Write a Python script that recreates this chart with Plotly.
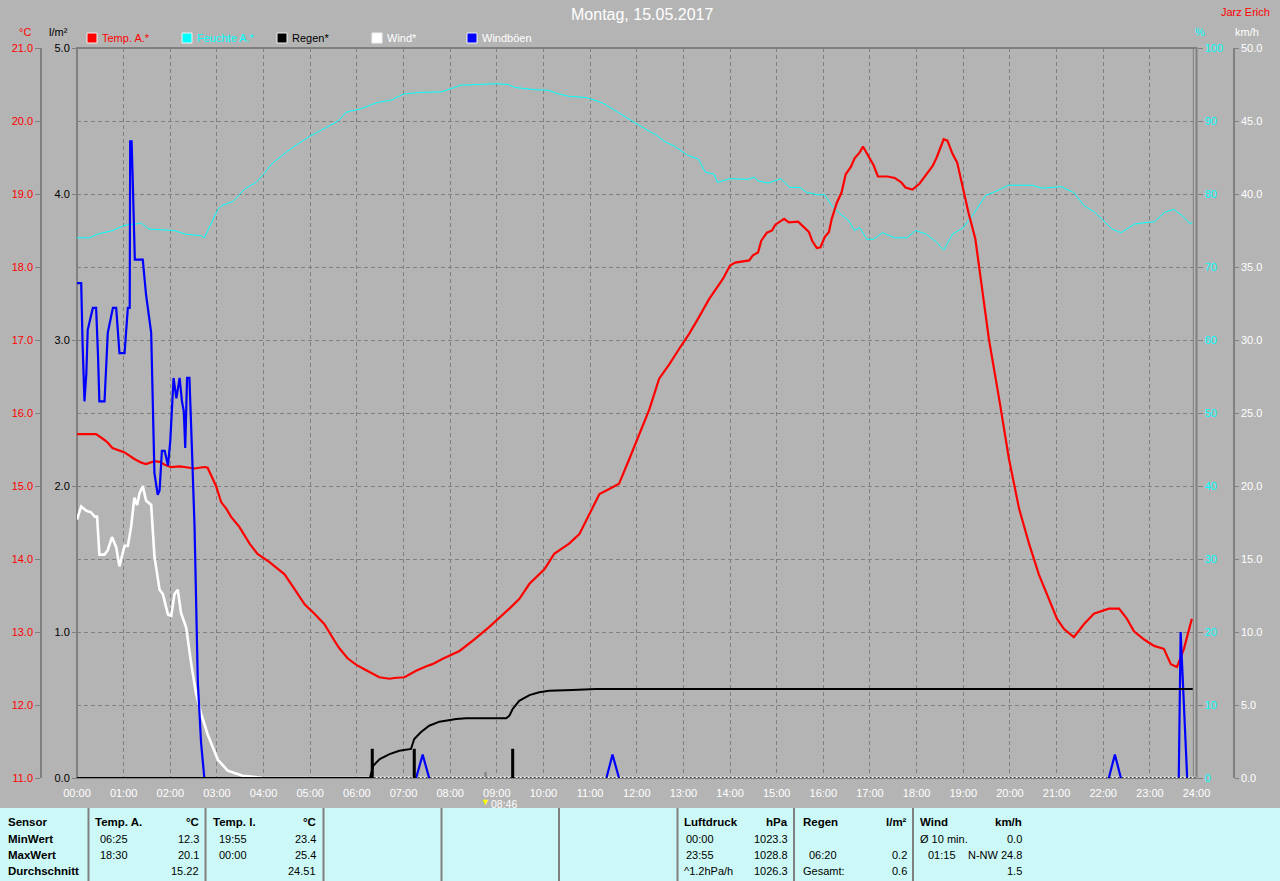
import plotly.graph_objects as go

# ---------------- data (time in decimal hours) ----------------
hour_labels = [f"{h:02d}:00" for h in range(25)]

temp_t = [0.00,0.41,0.59,0.65,0.76,1.02,1.23,1.38,1.48,1.66,
          1.77,1.88,2.02,2.20,2.30,2.52,2.73,2.80,2.88,2.98,
          3.09,3.20,3.30,3.48,3.70,3.87,4.12,4.45,4.66,4.88,
          5.09,5.30,5.52,5.62,5.80,5.99,6.16,6.33,6.48,6.70,6.80,
          7.02,7.12,7.27,7.49,7.62,7.83,8.20,8.52,8.84,9.27,
          9.48,9.70,10.02,10.23,10.55,10.77,10.98,11.20,11.41,11.62,
          11.84,12.05,12.27,12.48,12.70,12.91,13.12,13.34,13.55,13.85,
          14.00,14.11,14.41,14.49,14.60,14.67,14.79,14.90,14.97,15.16,
          15.26,15.46,15.58,15.69,15.76,15.86,15.94,16.03,16.12,16.18,
          16.29,16.39,16.48,16.59,16.67,16.78,16.85,16.97,17.08,17.17,
          17.38,17.53,17.67,17.76,17.91,18.06,18.21,18.34,18.43,18.51,
          18.58,18.66,18.77,18.87,19.00,19.11,19.26,19.37,19.55,19.77,
          19.98,20.20,20.41,20.62,20.84,21.01,21.16,21.37,21.59,21.80,
          22.12,22.34,22.51,22.66,22.87,23.09,23.30,23.45,23.58,23.73,
          23.90]
temp_v = [15.71,15.71,15.63,15.60,15.52,15.46,15.37,15.32,15.30,15.34,
          15.33,15.29,15.26,15.27,15.26,15.24,15.26,15.25,15.14,15.00,
          14.78,14.69,14.58,14.44,14.21,14.07,13.96,13.79,13.59,13.38,
          13.25,13.11,12.88,12.78,12.64,12.55,12.49,12.43,12.38,12.36,12.37,
          12.38,12.42,12.47,12.53,12.56,12.63,12.74,12.90,13.07,13.32,
          13.45,13.66,13.86,14.07,14.21,14.34,14.62,14.89,14.96,15.03,
          15.37,15.71,16.05,16.47,16.67,16.88,17.08,17.32,17.56,17.84,
          18.02,18.06,18.09,18.16,18.20,18.36,18.47,18.50,18.58,18.66,
          18.61,18.62,18.54,18.48,18.36,18.26,18.27,18.41,18.48,18.66,
          18.88,19.02,19.27,19.37,19.49,19.57,19.65,19.52,19.39,19.24,
          19.24,19.22,19.16,19.09,19.06,19.14,19.27,19.38,19.50,19.65,
          19.75,19.73,19.55,19.43,19.07,18.75,18.38,17.84,17.01,16.19,
          15.37,14.68,14.21,13.79,13.45,13.18,13.04,12.93,13.11,13.25,
          13.32,13.32,13.18,13.01,12.90,12.81,12.77,12.56,12.52,12.77,
          13.18]

hum_t = [0.00,0.27,0.44,0.77,1.01,1.38,1.54,2.08,2.32,2.65,
         2.73,3.02,3.10,3.35,3.60,3.84,4.00,4.17,4.46,4.70,
         4.99,5.28,5.60,5.77,6.10,6.42,6.75,7.00,7.33,7.82,
         8.07,8.23,8.97,9.25,9.38,9.79,10.11,10.28,10.53,10.93,
         11.26,11.59,11.92,12.00,12.29,12.41,12.62,12.80,13.09,13.32,
         13.47,13.66,13.73,14.00,14.37,14.52,14.60,14.82,15.09,15.28,
         15.50,15.65,15.88,16.03,16.18,16.36,16.55,16.67,16.78,16.93,
         17.08,17.27,17.53,17.79,17.98,18.21,18.43,18.58,18.77,19.00,
         19.22,19.48,19.71,19.97,20.46,20.69,21.10,21.37,21.59,21.82,
         22.04,22.19,22.38,22.68,22.94,23.10,23.32,23.51,23.70,23.85,
         23.91]
hum_v = [74.0,74.0,74.5,75.0,75.7,76.0,75.2,75.0,74.5,74.3,
         74.0,77.9,78.4,79.0,80.7,81.6,82.7,84.1,85.6,86.7,
         87.9,88.9,90.0,91.2,91.7,92.5,92.9,93.7,93.9,94.0,
         94.6,94.9,95.1,95.0,94.6,94.3,94.2,93.8,93.4,93.2,
         92.5,91.2,90.0,89.6,88.5,88.1,87.1,86.6,85.3,84.8,
         83.0,82.7,81.6,82.1,82.0,82.3,81.8,81.5,82.1,80.9,
         80.9,80.2,79.9,79.9,78.4,77.3,76.3,75.0,75.4,73.8,
         73.8,74.7,74.0,74.0,75.0,74.5,73.4,72.3,74.5,75.4,
         77.3,79.8,80.4,81.2,81.2,80.8,81.0,80.2,78.4,77.5,
         76.1,75.2,74.7,75.9,76.1,76.2,77.5,77.9,77.0,76.0,
         76.0]

wind_t = [0.00,0.09,0.20,0.30,0.38,0.43,0.48,0.59,0.66,0.75,
          0.84,0.91,1.02,1.09,1.16,1.23,1.29,1.34,1.41,1.48,
          1.59,1.66,1.77,1.84,1.95,2.02,2.09,2.16,2.23,2.34,
          2.45,2.55,2.66,2.80,3.02,3.23,3.55,4.02,24.0]
wind_v = [17.7,18.6,18.3,18.2,17.9,17.9,15.3,15.3,15.6,16.5,
          15.8,14.5,15.9,15.9,17.2,19.2,18.7,19.5,20.0,19.0,
          18.7,15.2,12.9,12.6,11.2,11.1,12.6,12.9,11.3,10.3,
          7.8,5.8,4.4,3.0,1.25,0.5,0.15,0.0,0.0]

gust_t = [0.00,0.09,0.12,0.16,0.20,0.23,0.34,0.41,0.45,0.48,
          0.59,0.66,0.77,0.84,0.91,1.02,1.09,1.13,1.14,1.17,
          1.19,1.21,1.24,1.41,1.48,1.59,1.62,1.66,1.73,1.77,
          1.82,1.88,1.95,2.00,2.07,2.13,2.20,2.25,2.29,2.32,
          2.36,2.41,2.46,2.52,2.59,2.66,2.73,
          5.00,7.27,7.41,7.55,9.50,11.35,11.48,11.62,17.0,
          22.12,22.25,22.38,23.0,23.62,23.66,23.80]
gust_v = [33.9,33.9,29.7,25.8,27.7,30.7,32.2,32.2,29.0,25.8,
          25.8,30.5,32.2,32.2,29.1,29.1,32.2,32.2,43.6,43.6,
          41.5,39.5,35.5,35.5,33.1,30.5,25.7,20.9,19.4,19.7,
          22.4,22.4,21.4,23.1,27.4,26.0,27.4,25.8,25.1,22.6,
          27.4,27.4,22.9,17.2,6.6,2.4,0.0,
          None,0.0,1.6,0.0,None,0.0,1.6,0.0,None,
          0.0,1.6,0.0,None,0.0,10.0,0.0]

rain_sum_t = [0.00,6.28,6.35,6.49,6.70,6.91,7.16,7.23,7.37,7.55,7.77,8.13,
              8.34,9.20,9.27,9.34,9.48,9.70,9.91,10.12,10.62,11.05,11.12,23.92]
rain_sum_v = [0.0,0.0,0.084,0.13,0.164,0.187,0.199,0.267,0.313,0.358,0.386,0.404,
              0.409,0.409,0.427,0.473,0.529,0.568,0.587,0.598,0.603,0.605,0.61,0.61]

rain_t = [6.33, 7.23, 9.34]
rain_v = [0.2, 0.2, 0.2]
rain_zero_t = [6.36, 24.0]
rain_zero_v = [0.0, 0.0]

assert len(temp_t) == len(temp_v)
assert len(hum_t) == len(hum_v)
assert len(wind_t) == len(wind_v)
assert len(gust_t) == len(gust_v)
assert len(rain_sum_t) == len(rain_sum_v)

# ---------------- geometry helpers ----------------
W, H = 1280, 881
ML, MR, MT, MB = 41, 46, 48, 103
PW = W - ML - MR
PH = H - MT - MB
X0, X1 = 77, 1196.5


def px(x):
    return (x - ML) / PW


def py(y):
    return (H - MB - y) / PH


BG = "#b4b4b4"
GRID = "#808080"
FONT = "Liberation Sans, Arial, sans-serif"

fig = go.Figure()

fig.add_trace(go.Scatter(x=hum_t, y=hum_v, yaxis="y", mode="lines",
                         line=dict(color="#00ffff", width=1), hoverinfo="skip"))
fig.add_trace(go.Scatter(x=temp_t, y=temp_v, yaxis="y2", mode="lines",
                         line=dict(color="#ff0000", width=2.2), hoverinfo="skip"))
fig.add_trace(go.Scatter(x=wind_t, y=wind_v, yaxis="y3", mode="lines",
                         line=dict(color="#ffffff", width=2.6), hoverinfo="skip"))
fig.add_trace(go.Scatter(x=gust_t, y=gust_v, yaxis="y3", mode="lines",
                         line=dict(color="#0000ff", width=2.2), connectgaps=False,
                         hoverinfo="skip"))
fig.add_trace(go.Scatter(x=rain_sum_t, y=rain_sum_v, yaxis="y4", mode="lines",
                         line=dict(color="#000000", width=2), hoverinfo="skip"))
fig.add_trace(go.Scatter(x=rain_zero_t, y=rain_zero_v, yaxis="y4", mode="lines",
                         line=dict(color="#000000", width=1.5, dash="2px,2px"),
                         hoverinfo="skip"))
fig.add_trace(go.Bar(x=rain_t, y=rain_v, yaxis="y4", width=0.065,
                     marker=dict(color="#000000", line=dict(width=0)),
                     hoverinfo="skip"))

axfont = dict(family=FONT, size=11)

fig.update_layout(
    width=W, height=H,
    margin=dict(l=ML, r=MR, t=MT, b=MB, autoexpand=False),
    paper_bgcolor=BG, plot_bgcolor=BG,
    showlegend=False,
    font=dict(family=FONT, size=11),
    xaxis=dict(domain=[px(X0), px(X1)], range=[0, 24],
               tickvals=list(range(25)), ticktext=hour_labels,
               tickfont=dict(axfont, color="#ffffff"),
               showgrid=True, gridcolor=GRID, griddash="4px,3px", gridwidth=1,
               zeroline=False, showline=False, ticks="", automargin=False,
               ticklabelstandoff=7, fixedrange=True),
    yaxis=dict(range=[0, 100], dtick=10, side="right", anchor="x",
               tickfont=dict(axfont, color="#00ffff"),
               showgrid=True, gridcolor=GRID, griddash="4px,3px", gridwidth=1,
               zeroline=False, showline=False, ticks="outside", ticklen=5,
               tickcolor=GRID, automargin=False),
    yaxis2=dict(range=[11, 21], dtick=1, tickformat=".1f", overlaying="y",
                anchor="free", position=0, side="left",
                tickfont=dict(axfont, color="#ff0000"),
                showgrid=False, zeroline=False, showline=True, linecolor=GRID,
                linewidth=1.5, ticks="outside", ticklen=5, tickcolor=GRID,
                automargin=False),
    yaxis3=dict(range=[0, 50], dtick=5, tickformat=".1f", overlaying="y",
                anchor="free", position=1, side="right",
                tickfont=dict(axfont, color="#ffffff"),
                showgrid=False, zeroline=False, showline=True, linecolor=GRID,
                linewidth=1.5, ticks="outside", ticklen=4, tickcolor=GRID,
                automargin=False),
    yaxis4=dict(range=[0, 5], dtick=1, tickformat=".1f", overlaying="y",
                anchor="x", side="left",
                tickfont=dict(axfont, color="#000000"),
                showgrid=False, zeroline=False, showline=False,
                ticks="outside", ticklen=4, tickcolor=GRID,
                minor=dict(dtick=0.5, ticks="inside", ticklen=4, tickcolor=GRID,
                           showgrid=False),
                automargin=False),
)

shapes = []
annots = []

# plot frame
shapes.append(dict(type="rect", xref="paper", yref="paper",
                   x0=px(X0), x1=px(X1), y0=py(778), y1=py(48),
                   line=dict(color=GRID, width=2), layer="between"))
shapes.append(dict(type="line", xref="paper", yref="paper",
                   x0=px(1193.3), x1=px(1193.3), y0=py(778), y1=py(48),
                   line=dict(color=GRID, width=1), layer="between"))
# 08:46 marker tick
shapes.append(dict(type="line", xref="paper", yref="paper",
                   x0=px(485.5), x1=px(485.5), y0=py(777), y1=py(772),
                   line=dict(color=GRID, width=2)))

# bottom table
TB_TOP = 808
shapes.append(dict(type="rect", xref="paper", yref="paper",
                   x0=px(0), x1=px(1280), y0=py(881), y1=py(TB_TOP),
                   fillcolor="#ccf9f7", line=dict(width=0), layer="below"))
for sx in [88.5, 205.5, 323.5, 441.5, 559, 677.5, 794, 913]:
    shapes.append(dict(type="line", xref="paper", yref="paper",
                       x0=px(sx), x1=px(sx), y0=py(881), y1=py(TB_TOP),
                       line=dict(color=GRID, width=2)))


def ann(text, x, y, xanchor="left", color="#000000", size=11, bold=False):
    t = f"<b>{text}</b>" if bold else text
    annots.append(dict(text=t, xref="paper", yref="paper", x=px(x), y=py(y),
                       xanchor=xanchor, yanchor="middle", showarrow=False,
                       font=dict(family=FONT, size=size, color=color),
                       borderpad=0))


rows = [822, 839, 855, 871]
BOLD = 11.5
for txt, yy in zip(["Sensor", "MinWert", "MaxWert", "Durchschnitt"], rows):
    ann(txt, 7, yy, bold=True, size=BOLD)

# Temp. A.
ann("Temp. A.", 94, rows[0], bold=True, size=BOLD)
ann("°C", 200, rows[0], "right", bold=True, size=BOLD)
for t, v, yy in zip(["06:25", "18:30", ""], ["12.3", "20.1", "15.22"], rows[1:]):
    ann(t, 99, yy)
    ann(v, 200, yy, "right")
# Temp. I.
ann("Temp. I.", 212, rows[0], bold=True, size=BOLD)
ann("°C", 317, rows[0], "right", bold=True, size=BOLD)
for t, v, yy in zip(["19:55", "00:00", ""], ["23.4", "25.4", "24.51"], rows[1:]):
    ann(t, 218, yy)
    ann(v, 317, yy, "right")
# Luftdruck
ann("Luftdruck", 683, rows[0], bold=True, size=BOLD)
ann("hPa", 789, rows[0], "right", bold=True, size=BOLD)
for t, tx, v, yy in zip(["00:00", "23:55", "^1.2hPa/h"], [685, 685, 683],
                        ["1023.3", "1028.8", "1026.3"], rows[1:]):
    ann(t, tx, yy)
    ann(v, 789, yy, "right")
# Regen
ann("Regen", 802, rows[0], bold=True, size=BOLD)
ann("l/m²", 908, rows[0], "right", bold=True, size=BOLD)
for t, tx, v, yy in zip(["", "06:20", "Gesamt:"], [802, 808, 802],
                        ["", "0.2", "0.6"], rows[1:]):
    ann(t, tx, yy)
    ann(v, 908, yy, "right")
# Wind
ann("Wind", 919, rows[0], bold=True, size=BOLD)
ann("km/h", 1023, rows[0], "right", bold=True, size=BOLD)
for t, tx, v, yy in zip(["Ø 10 min.", "01:15", ""], [919, 927, 919],
                        ["0.0", "N-NW 24.8", "1.5"], rows[1:]):
    ann(t, tx, yy)
    ann(v, 1023, yy, "right")

# title & signature
ann("Montag, 15.05.2017", 642, 15, "center", color="#ffffff", size=16)
ann("Jarz Erich", 1245, 12, "center", color="#ff0000", size=11)

# axis unit labels
ann("°C", 25, 32, "center", color="#ff0000")
ann("l/m²", 58, 32, "center", color="#000000")
ann("%", 1200, 32, "center", color="#00ffff")
ann("km/h", 1247, 32, "center", color="#ffffff")

# legend
legend = [("Temp. A.*", "#ff0000", "#ff0000", 87),
          ("Feuchte A.*", "#00ffff", "#00ffff", 182),
          ("Regen*", "#000000", "#000000", 277),
          ("Wind*", "#ffffff", "#ffffff", 372),
          ("Windböen", "#0000ff", "#ffffff", 467)]
for name, sq, tc, lx in legend:
    shapes.append(dict(type="rect", xref="paper", yref="paper",
                       x0=px(lx), x1=px(lx + 10), y0=py(43), y1=py(33),
                       fillcolor=sq, line=dict(color="#f0f0f0", width=1)))
    ann(name, lx + 14, 38, color=tc)

# current-time marker
ann("▼", 485.5, 802, "center", color="#ffff00", size=9)
ann("08:46", 490, 804, color="#ffffff", size=10.5)

fig.update_layout(shapes=shapes, annotations=annots)

fig.write_html("out.html",
               config={"displayModeBar": False},
               post_script="document.body.style.margin='0px';"
                           "document.body.style.overflow='hidden';")
